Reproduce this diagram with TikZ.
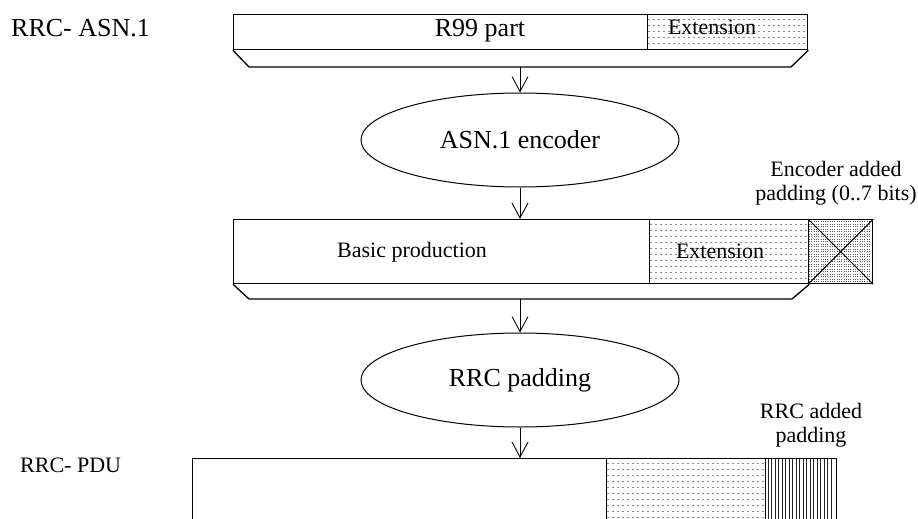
\documentclass[tikz,border=0pt]{standalone}
\usepackage{fontspec}
\setmainfont{Liberation Serif}
\usepackage{tikz}
\usetikzlibrary{arrows.meta,positioning,shapes.geometric}
\definecolor{dotgray}{HTML}{8C8C8C}
\definecolor{densegray}{HTML}{5A5A5A}

\begin{document}
\begin{tikzpicture}[x=1pt,y=-1pt,>={Straight Barb[length=15pt,width=16pt]}]
    \tikzset{part/.style={draw,line width=1.3pt,inner sep=0pt,anchor=north west},
      blob/.style={ellipse,draw,line width=1pt,minimum width=318pt,minimum height=94pt,font=\fontsize{26}{30}\selectfont},
      bigtxt/.style={inner sep=0pt,font=\fontsize{26}{30}\selectfont},
      smalltxt/.style={inner sep=0pt,align=center,font=\fontsize{22}{24}\selectfont},
      arrow/.style={->,line width=0.9pt},
      dotline/.style={dotgray,line width=0.7pt,dash pattern=on 1.6pt off 3.4pt},
      denseline/.style={densegray,line width=0.8pt,dash pattern=on 1pt off 1.3pt}}
    \useasboundingbox (0,0) rectangle (918,519);
    \clip (0,0) rectangle (918,519);
    % fills first
    \foreach \y in {19,25,...,45} \draw[dotline] (648,\y) -- (806,\y);
    \foreach \y in {224,230,...,280} \draw[dotline] (650,\y) -- (807,\y);
    \foreach \y in {221.5,224,...,281.5} \draw[denseline] (809,\y) -- (871,\y);
    \foreach \y in {463,469,...,519} \draw[dotline] (607,\y) -- (764,\y);
    \foreach \x in {768,771.5,...,834} \draw[black!85,line width=0.9pt] (\x,459) -- (\x,519);
    % top row
    \node[bigtxt,anchor=west] (asnlbl) at (11,28) {RRC- ASN.1};
    \node[part,minimum width=414pt,minimum height=35pt] (r99) at (233,14) {};
    \node[part,minimum width=160pt,minimum height=35pt] (ext1) at (647,14) {};
    \node[bigtxt] (r99lbl) at (480,31) {R99 part};
    \node[smalltxt] (ext1lbl) at (712,27) {Extension};
    \draw[line width=1.3pt] (r99.south west) -- (249,67) -- (791,67) -- (ext1.south east);
    \coordinate (r99foot) at (520,67);
    \node[blob] (asnenc) at (520,140) {ASN.1 encoder};
    \draw[arrow] (r99foot) -- (asnenc);
    % encoder output
    \node[smalltxt] (encnote) at (836,183) {Encoder added\\padding (0..7 bits)};
    \node[part,minimum width=416pt,minimum height=64pt] (basic) at (233,219) {};
    \node[part,minimum width=159pt,minimum height=64pt] (ext2) at (649,219) {};
    \node[part,minimum width=64pt,minimum height=64pt] (encpad) at (808,219) {};
    \draw[line width=1pt] (encpad.north west) -- (encpad.south east) (encpad.north east) -- (encpad.south west);
    \node[smalltxt] (basiclbl) at (412,252) {Basic production};
    \node[smalltxt] (ext2lbl) at (720,251) {Extension};
    \draw[arrow] (asnenc.south) -- (asnenc.south |- basic.north);
    \draw[line width=1.3pt] (basic.south west) -- (249,299) -- (792,299) -- (ext2.south east);
    \coordinate (basicfoot) at (520,299);
    \node[blob] (rrcpad) at (520,380) {RRC padding};
    \draw[arrow] (basicfoot) -- (rrcpad);
    % rrc pdu
    \node[smalltxt] (rrcnote) at (811,425) {RRC added\\padding};
    \node[smalltxt,anchor=west] (pdulbl) at (20,465) {RRC- PDU};
    \node[part,minimum width=414pt,minimum height=80pt] (pdu) at (192,458) {};
    \node[part,minimum width=159pt,minimum height=80pt] (pdudots) at (606,458) {};
    \node[part,minimum width=71pt,minimum height=80pt] (pdupad) at (765,458) {};
    \draw[arrow] (rrcpad.south) -- (rrcpad.south |- pdu.north);
  \end{tikzpicture}
\end{document}
